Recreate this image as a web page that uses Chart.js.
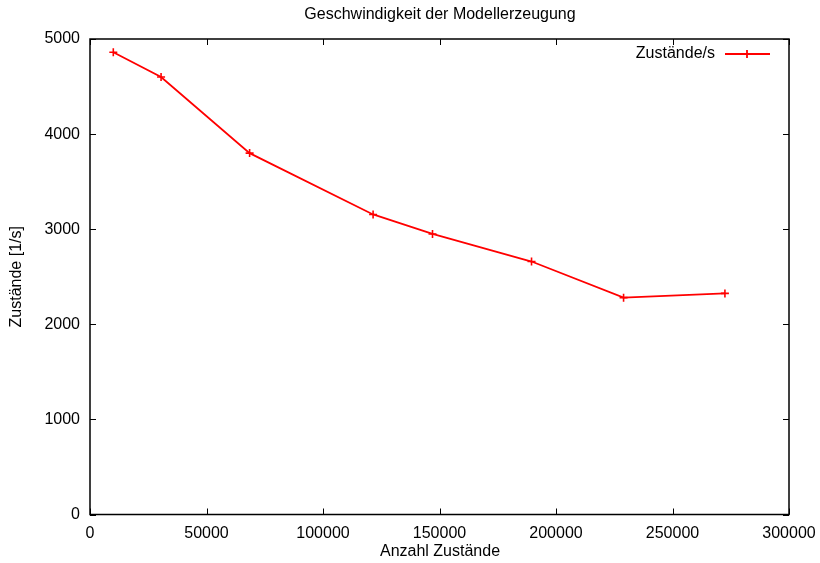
<!DOCTYPE html>
<html>
<head>
<meta charset="utf-8">
<script src="https://cdn.jsdelivr.net/npm/chart.js@4/dist/chart.umd.min.js"></script>
<style>
  html, body { margin: 0; padding: 0; background: #fff; }
  #wrap { width: 820px; height: 563px; }
</style>
</head>
<body>
<div id="wrap"><canvas id="c" width="820" height="563"></canvas></div>
<script>
// Number of states vs. generation speed (states per second)
const anzahlZustaende = [10000, 30500, 68500, 121500, 147000, 189500, 229000, 272500];
const zustaendeProSek = [4860, 4600, 3800, 3155, 2950, 2660, 2280, 2325];

const chartTitle = 'Geschwindigkeit der Modellerzeugung';
const xTitle = 'Anzahl Zustände';
const yTitle = 'Zustände [1/s]';
const seriesLabel = 'Zustände/s';

const FONT = '"Liberation Sans", Arial, Helvetica, sans-serif';
const RED = '#ff0000';

// gnuplot-like frame: border, inward ticks on all four sides, titles, key
const frameAndKey = {
  id: 'frameAndKey',
  afterDatasetsDraw(chart) {
    const { ctx, chartArea: a, scales } = chart;
    const tl = 6;
    ctx.save();
    ctx.strokeStyle = '#000';
    ctx.lineWidth = 1;
    ctx.beginPath();
    scales.x.ticks.forEach(t => {
      const px = Math.round(scales.x.getPixelForValue(t.value)) + 0.5;
      ctx.moveTo(px, a.bottom); ctx.lineTo(px, a.bottom - tl);
      ctx.moveTo(px, a.top); ctx.lineTo(px, a.top + tl);
    });
    scales.y.ticks.forEach(t => {
      const py = Math.round(scales.y.getPixelForValue(t.value)) + 0.5;
      ctx.moveTo(a.left, py); ctx.lineTo(a.left + tl, py);
      ctx.moveTo(a.right, py); ctx.lineTo(a.right - tl, py);
    });
    ctx.stroke();
    ctx.lineWidth = 1.5;
    ctx.strokeRect(a.left, a.top, a.right - a.left, a.bottom - a.top);

    ctx.fillStyle = '#000';
    ctx.font = '16px ' + FONT;
    ctx.textAlign = 'center';
    ctx.textBaseline = 'middle';
    ctx.fillText(chartTitle, 440, 15);
    ctx.fillText(xTitle, 440, 552);
    ctx.save();
    ctx.translate(17, (a.top + a.bottom) / 2);
    ctx.rotate(-Math.PI / 2);
    ctx.fillText(yTitle, 0, 0);
    ctx.restore();

    // key
    const ky = a.top + 15;
    ctx.textAlign = 'right';
    ctx.fillText(seriesLabel, a.right - 74, ky);
    ctx.strokeStyle = RED;
    ctx.lineWidth = 1.8;
    ctx.beginPath();
    ctx.moveTo(a.right - 64, ky); ctx.lineTo(a.right - 19, ky);
    ctx.moveTo(a.right - 42, ky - 4); ctx.lineTo(a.right - 42, ky + 4);
    ctx.stroke();
    ctx.restore();
  }
};

new Chart(document.getElementById('c'), {
  type: 'line',
  data: {
    datasets: [{
      label: seriesLabel,
      data: anzahlZustaende.map((x, i) => ({ x, y: zustaendeProSek[i] })),
      borderColor: RED,
      backgroundColor: RED,
      borderWidth: 1.8,
      pointStyle: 'cross',
      pointRadius: 4,
      pointBorderWidth: 1.6,
      pointBorderColor: RED,
      tension: 0,
      fill: false
    }]
  },
  options: {
    responsive: false,
    animation: false,
    devicePixelRatio: 1,
    layout: { padding: { top: 39, right: 31, left: 0, bottom: 0 } },
    plugins: {
      legend: { display: false },
      title: { display: false },
      tooltip: { enabled: false }
    },
    scales: {
      x: {
        type: 'linear',
        min: 0, max: 300000,
        afterFit(s) { s.height = 48.5; s.paddingLeft = 0; s.paddingRight = 0; },
        grid: { display: false, drawTicks: false },
        border: { display: false },
        ticks: {
          stepSize: 50000,
          padding: 9,
          color: '#000',
          maxRotation: 0,
          autoSkip: false,
          font: { family: FONT, size: 16 },
          callback: v => String(v)
        }
      },
      y: {
        type: 'linear',
        min: 0, max: 5000,
        afterFit(s) { s.width = 90; s.paddingTop = 0; s.paddingBottom = 0; },
        grid: { display: false, drawTicks: false },
        border: { display: false },
        ticks: {
          stepSize: 1000,
          padding: 10,
          color: '#000',
          font: { family: FONT, size: 16 },
          callback: v => String(v)
        }
      }
    }
  },
  plugins: [frameAndKey]
});
</script>
</body>
</html>
